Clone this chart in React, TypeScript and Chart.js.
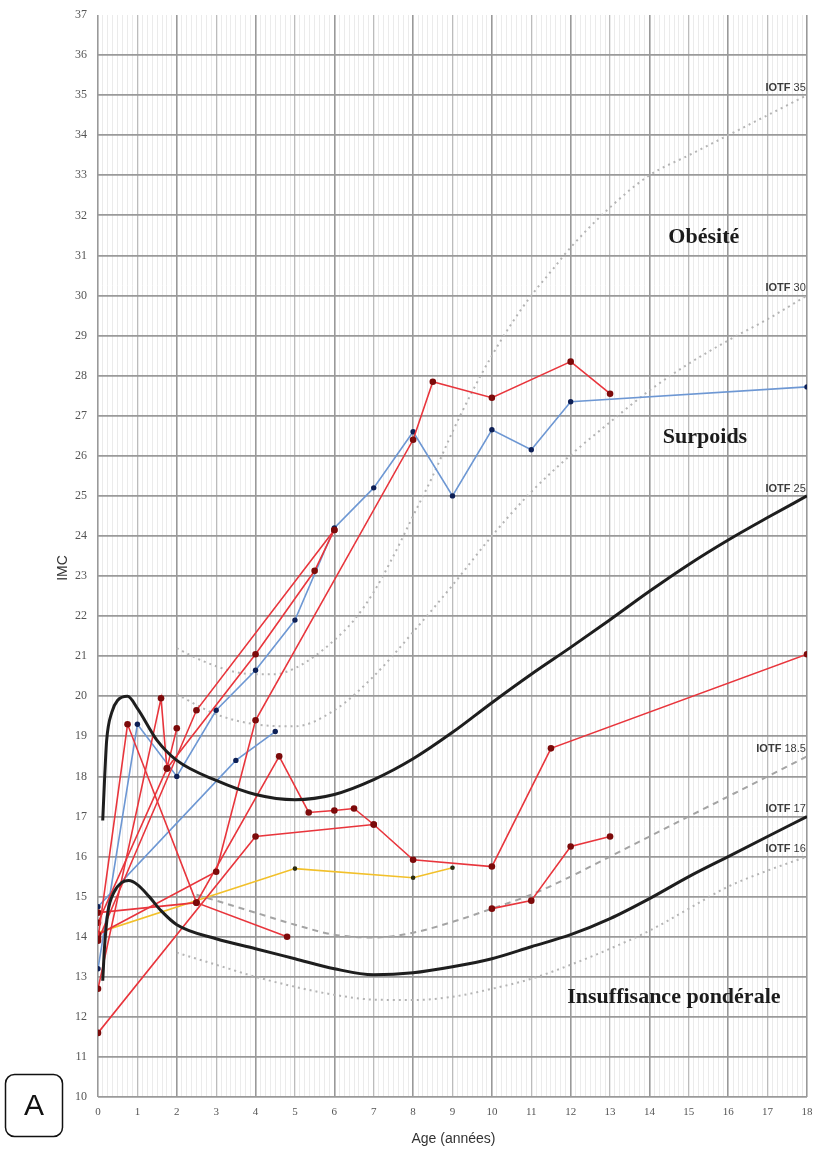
import React, { useEffect, useRef } from "react";
import { Chart, registerables } from "chart.js";

Chart.register(...registerables);

// ---------- Reference curves (IOTF) ----------
const iotf25Age = [0.12, 0.17, 0.22, 0.35, 0.5, 0.75, 1, 1.5, 2, 3, 4, 5, 6, 7, 8, 9, 10, 11, 12, 13, 14, 15, 16, 17, 18];
const iotf25Bmi = [16.9, 18.0, 18.9, 19.6, 19.9, 20.0, 19.7, 18.9, 18.4, 17.9, 17.55, 17.42, 17.55, 17.92, 18.44, 19.1, 19.84, 20.55, 21.22, 21.91, 22.62, 23.29, 23.9, 24.46, 25.0];

const iotf17Age = [0.12, 0.17, 0.25, 0.4, 0.6, 0.78, 1, 1.3, 1.6, 2, 3, 4, 5, 6, 7, 8, 9, 10, 11, 12, 13, 14, 15, 16, 17, 18];
const iotf17Bmi = [12.9, 13.8, 14.6, 15.1, 15.35, 15.4, 15.3, 15.0, 14.65, 14.3, 13.95, 13.7, 13.45, 13.2, 13.05, 13.1, 13.25, 13.45, 13.75, 14.05, 14.45, 14.95, 15.5, 16.0, 16.5, 17.0];

const iotf35Age = [2, 2.5, 3, 3.5, 4, 4.5, 5, 5.5, 6, 6.5, 7, 7.5, 8, 8.5, 9, 9.5, 10, 10.5, 11, 11.5, 12, 13, 14, 15, 16, 17, 18];
const iotf35Bmi = [21.2, 20.95, 20.75, 20.6, 20.55, 20.55, 20.7, 21.0, 21.4, 21.9, 22.6, 23.5, 24.5, 25.5, 26.6, 27.6, 28.5, 29.3, 30.0, 30.6, 31.2, 32.2, 33.0, 33.5, 34.0, 34.5, 35.0];

const iotf30Age = [2, 3, 4, 5, 6, 7, 8, 9, 10, 11, 12, 13, 14, 15, 16, 17, 18];
const iotf30Bmi = [20.05, 19.55, 19.3, 19.25, 19.65, 20.5, 21.6, 22.77, 24.0, 25.1, 26.02, 26.84, 27.63, 28.3, 28.88, 29.41, 30.0];

const iotf185Age = [2.5, 3, 4, 5, 6, 7, 8, 9, 10, 11, 12, 13, 14, 15, 16, 17, 18];
const iotf185Bmi = [15.05, 14.9, 14.6, 14.3, 14.05, 13.98, 14.1, 14.37, 14.7, 15.05, 15.5, 16.0, 16.5, 17.0, 17.5, 18.0, 18.5];

const iotf16Age = [2, 3, 4, 5, 6, 7, 8, 9, 10, 11, 12, 13, 14, 15, 16, 17, 18];
const iotf16Bmi = [13.6, 13.3, 13.0, 12.75, 12.55, 12.43, 12.42, 12.5, 12.7, 12.95, 13.3, 13.7, 14.15, 14.7, 15.25, 15.65, 16.0];

// ---------- Patients (red) ----------
const red1Age = [0, 4, 7];
const red1Bmi = [11.6, 16.5, 16.8];
const red2Age = [0, 0.75, 2.5, 4.8];
const red2Bmi = [13.95, 19.3, 14.85, 14.0];
const red3Age = [0, 3, 4, 8, 8.5, 10, 12, 13];
const red3Bmi = [14.05, 15.62, 19.4, 26.4, 27.85, 27.45, 28.35, 27.55];
const red4Age = [0, 2.5, 4.6, 5.35, 6, 6.5, 7, 8, 10, 11.5, 18];
const red4Bmi = [14.6, 14.85, 18.5, 17.1, 17.15, 17.2, 16.8, 15.92, 15.75, 18.7, 21.05];
const red5Age = [0, 1.6, 1.75, 2];
const red5Bmi = [12.7, 19.95, 18.2, 19.2];
const red6Age = [0, 1.75, 4, 5.5, 6];
const red6Bmi = [14.35, 18.2, 21.05, 23.13, 24.15];
const red7Age = [0, 2.5, 6];
const red7Bmi = [13.9, 19.65, 24.15];
const red8Age = [10, 11, 12, 13];
const red8Bmi = [14.7, 14.9, 16.25, 16.5];

// ---------- Patients (blue) ----------
const blue1Age = [0, 1, 2, 3, 4, 5, 6, 7, 8, 9, 10, 11, 12, 18];
const blue1Bmi = [13.2, 19.3, 18.0, 19.65, 20.65, 21.9, 24.2, 25.2, 26.6, 25.0, 26.65, 26.15, 27.35, 27.72];
const blue2Age = [0, 3.5, 4.5];
const blue2Bmi = [14.75, 18.4, 19.12];

// ---------- Patient (yellow) ----------
const yellowAge = [0, 5, 8, 9];
const yellowBmi = [14.1, 15.7, 15.47, 15.72];

// ---------- Axes ----------
const xMin = 0, xMax = 18;
const yMin = 10, yMax = 37;

// ---------- Texts ----------
const zoneLabels = ["Obésité", "Surpoids", "Insuffisance pondérale"];
const zoneAge = [15.38, 15.41, 14.62];
const zoneBmi = [31.46, 26.47, 12.5];
const curveLabelNums = ["35", "30", "25", "18.5", "17", "16"];
const curveLabelBmi = [35.19, 30.2, 25.17, 18.68, 17.19, 16.19];
const xTitle = "Age (années)";
const yTitle = "IMC";
const panelLetter = "A";

const zip = (a: number[], b: number[]) => a.map((v, i) => ({ x: v, y: b[i] }));

const RED = "#e8353c";
const RED_PT = "#7c0a0a";
const BLUE = "#6d97d3";
const BLUE_PT = "#0d1f55";
const YEL = "#f2c02a";
const YEL_PT = "#2a2a10";

function patient(a: number[], b: number[], color: string, pt: string, r: number) {
  return {
    data: zip(a, b),
    borderColor: color,
    borderWidth: 1.6,
    pointRadius: r,
    pointBackgroundColor: pt,
    pointBorderColor: pt,
    pointBorderWidth: 0,
    tension: 0,
    fill: false,
  };
}

function refCurve(a: number[], b: number[], color: string, width: number, dash: number[]) {
  return {
    data: zip(a, b),
    borderColor: color,
    borderWidth: width,
    borderDash: dash,
    pointRadius: 0,
    cubicInterpolationMode: "monotone" as const,
    fill: false,
  };
}

const textPlugin = {
  id: "texts",
  afterDraw(chart: any) {
    const { ctx } = chart;
    const x = chart.scales.x;
    const y = chart.scales.y;
    ctx.save();
    // zone labels
    ctx.fillStyle = "#1b1b1b";
    ctx.font = 'bold 22px "Liberation Serif"';
    ctx.textAlign = "center";
    ctx.textBaseline = "middle";
    zoneLabels.forEach((t, i) => {
      ctx.fillText(t, x.getPixelForValue(zoneAge[i]), y.getPixelForValue(zoneBmi[i]));
    });
    // curve labels
    const xr = x.getPixelForValue(17.97);
    ctx.fillStyle = "#3a3a3a";
    curveLabelNums.forEach((n, i) => {
      const py = y.getPixelForValue(curveLabelBmi[i]);
      ctx.textAlign = "right";
      ctx.font = '11px "Liberation Sans"';
      const w = ctx.measureText(n).width;
      ctx.fillText(n, xr, py);
      ctx.font = 'bold 11px "Liberation Sans"';
      ctx.fillText("IOTF ", xr - w, py);
    });
    // axis titles
    ctx.fillStyle = "#333";
    ctx.font = '14px "Liberation Sans"';
    ctx.textAlign = "center";
    ctx.fillText(xTitle, (x.left + x.right) / 2 + 1, 1139);
    ctx.save();
    ctx.translate(63, 568);
    ctx.rotate(-Math.PI / 2);
    ctx.fillText(yTitle, 0, 0);
    ctx.restore();
    // panel letter box
    ctx.strokeStyle = "#111";
    ctx.lineWidth = 1.5;
    ctx.beginPath();
    (ctx as any).roundRect(5.5, 1074.5, 57, 62, 9);
    ctx.stroke();
    ctx.fillStyle = "#111";
    ctx.font = '30px "Liberation Sans"';
    ctx.fillText(panelLetter, 34, 1107);
    ctx.restore();
  },
};

export default function App() {
  const ref = useRef<HTMLCanvasElement>(null);
  useEffect(() => {
    if (!ref.current) return;
    const datasets: any[] = [
      refCurve(iotf25Age, iotf25Bmi, "#1e1e1e", 3, []),
      refCurve(iotf17Age, iotf17Bmi, "#1e1e1e", 3, []),
      patient(red1Age, red1Bmi, RED, RED_PT, 3.3),
      patient(red2Age, red2Bmi, RED, RED_PT, 3.3),
      patient(red3Age, red3Bmi, RED, RED_PT, 3.3),
      patient(red4Age, red4Bmi, RED, RED_PT, 3.3),
      patient(red5Age, red5Bmi, RED, RED_PT, 3.3),
      patient(red6Age, red6Bmi, RED, RED_PT, 3.3),
      patient(red7Age, red7Bmi, RED, RED_PT, 3.3),
      patient(red8Age, red8Bmi, RED, RED_PT, 3.3),
      patient(blue1Age, blue1Bmi, BLUE, BLUE_PT, 2.7),
      patient(blue2Age, blue2Bmi, BLUE, BLUE_PT, 2.7),
      patient(yellowAge, yellowBmi, YEL, YEL_PT, 2.3),
      refCurve(iotf35Age, iotf35Bmi, "#b4b4b4", 2, [2, 4]),
      refCurve(iotf30Age, iotf30Bmi, "#b4b4b4", 2, [2, 4]),
      refCurve(iotf185Age, iotf185Bmi, "#a4a4a4", 2, [6, 5]),
      refCurve(iotf16Age, iotf16Bmi, "#b4b4b4", 2, [2, 4]),
    ];
    const chart = new Chart(ref.current, {
      type: "line",
      data: { datasets },
      plugins: [textPlugin],
      options: {
        animation: false,
        responsive: false,
        events: [],
        layout: { padding: { left: 0, right: 9, top: 15, bottom: 0 } },
        plugins: { legend: { display: false }, tooltip: { enabled: false } },
        scales: {
          x: {
            type: "linear",
            min: xMin,
            max: xMax,
            afterFit: (s: any) => {
              s.height = 60;
              s.paddingLeft = 0;
              s.paddingRight = 0;
            },
            border: { display: false },
            grid: {
              drawTicks: false,
              color: (c: any) => {
                const v = c.tick.value;
                if (Math.abs(v - Math.round(v)) > 1e-6) return "#ebebeb";
                return Math.round(v) % 2 === 0 ? "#999" : "#bcbcbc";
              },
              lineWidth: (c: any) => {
                const v = c.tick.value;
                if (Math.abs(v - Math.round(v)) > 1e-6) return 1;
                return Math.round(v) % 2 === 0 ? 1.6 : 1.3;
              },
            },
            ticks: {
              stepSize: 0.125,
              autoSkip: false,
              maxRotation: 0,
              minRotation: 0,
              padding: 9,
              color: "#555",
              font: { family: "Liberation Serif", size: 11 },
              callback: (v: any) => {
                const n = Number(v);
                return Math.abs(n - Math.round(n)) < 1e-6 ? String(Math.round(n)) : "";
              },
            },
          },
          y: {
            type: "linear",
            min: yMin,
            max: yMax,
            afterFit: (s: any) => {
              s.width = 98;
              s.paddingTop = 0;
              s.paddingBottom = 0;
            },
            border: { display: false },
            grid: {
              drawTicks: false,
              color: (c: any) => (c.tick.value === yMax ? "rgba(0,0,0,0)" : "#9a9a9a"),
              lineWidth: 1.8,
            },
            ticks: {
              stepSize: 1,
              padding: 11,
              color: "#555",
              font: { family: "Liberation Serif", size: 12 },
            },
          },
        },
      },
    });
    return () => chart.destroy();
  }, []);
  return (
    <div style={{ position: "fixed", left: 0, top: 0, width: 816, height: 1157, background: "#fff" }}>
      <canvas ref={ref} width={816} height={1157} />
    </div>
  );
}
